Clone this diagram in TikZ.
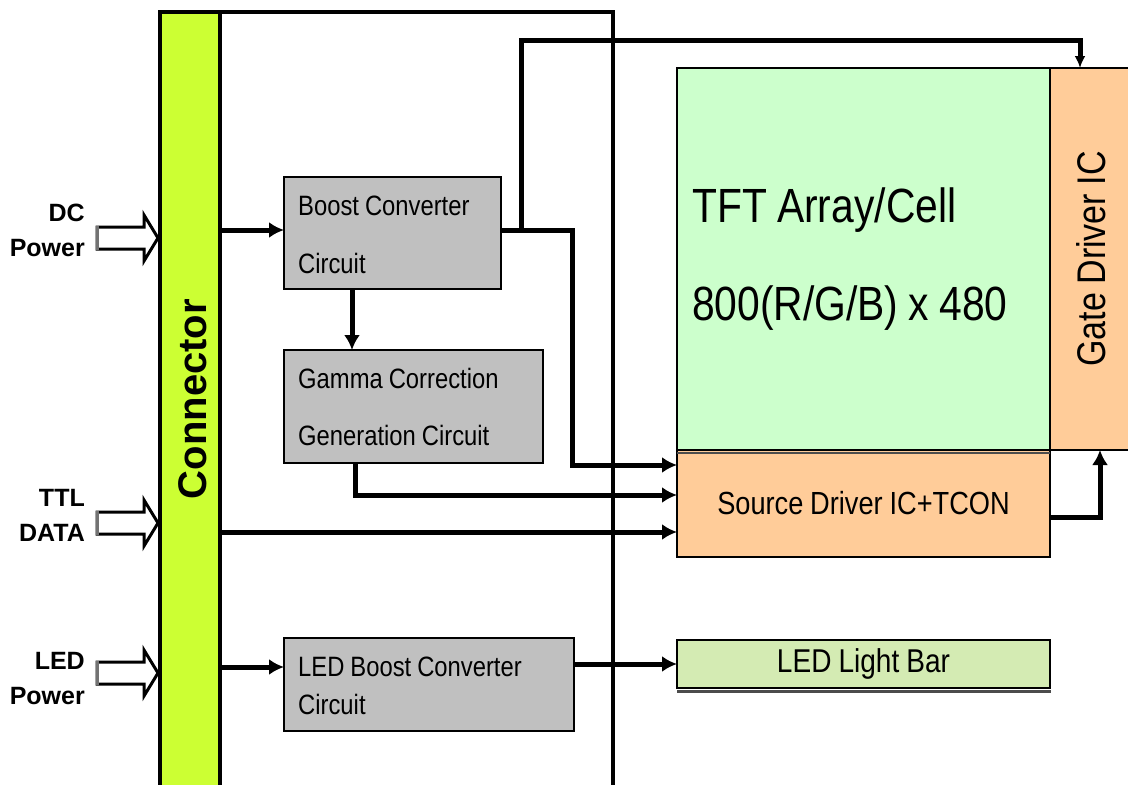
\documentclass[tikz,border=0pt]{standalone}
\usepackage{fontspec}
\setmainfont{Liberation Sans}
\newfontfamily\nf[FakeStretch=0.85,WordSpace=0.9]{Liberation Sans}
\usetikzlibrary{arrows.meta,calc}
\definecolor{barcol}{HTML}{CCFF33}
\definecolor{graybox}{HTML}{C0C0C0}
\definecolor{tftcol}{HTML}{CCFFCC}
\definecolor{orangecol}{HTML}{FFCC99}
\definecolor{ledcol}{HTML}{D4EBB3}
\begin{document}
\begin{tikzpicture}[x=1pt,y=-1pt,
  box/.style={draw=black, line width=2.5pt, inner sep=0pt, outer sep=0pt},
  graybx/.style={box, fill=graybox},
  intext/.style={align=left, anchor=west, inner sep=0pt},
  wire/.style={line width=5pt, line join=miter, line cap=butt},
  arr/.style={wire, -{Latex[length=15pt,width=16pt]}},
  hollow/.style={fill=white, draw=black, line width=3pt, line join=miter},
  lbl/.style={font=\bfseries\fontsize{25}{35}\selectfont, align=right, anchor=east, inner sep=0pt}
]
\useasboundingbox (0,0) rectangle (1128,785);
\clip (0,0) rectangle (1128,785);

% frame
\draw[line width=4pt] (160,12) -- (613,12) -- (613,800);
% connector bar
\node[box, fill=barcol, line width=4pt, minimum width=60pt, minimum height=788pt, anchor=north west] (conn) at (160,12) {};
\node[rotate=90, font=\bfseries\fontsize{40}{42}\selectfont] (conntxt) at (193,399) {Connector};

% left labels and hollow arrows
\node[lbl] (dc) at (85,230) {DC\\Power};
\node[lbl] (ttl) at (85,515) {TTL\\DATA};
\node[lbl] (ledp) at (85,679) {LED\\Power};
\foreach \c in {238,523,673}{
  \draw[hollow] (97,\c-11) -- (144,\c-11) -- (144,\c-23) -- (158,\c) -- (144,\c+23) -- (144,\c+11) -- (97,\c+11) -- cycle;
  \draw[black!55, line width=3pt] (97,\c-12) -- (97,\c+12);
}

% gray boxes
\node[graybx, minimum width=217pt, minimum height=112pt, anchor=north west] (boost) at (284,177) {};
\node[intext, font=\nf\fontsize{28}{58}\selectfont] (boosttxt) at ($(boost.west)+(14,2)$) {Boost Converter\\Circuit};
\node[graybx, minimum width=259pt, minimum height=113pt, anchor=north west] (gamma) at (284,350) {};
\node[intext, font=\nf\fontsize{28}{57}\selectfont] (gammatxt) at ($(gamma.west)+(14,0)$) {Gamma Correction\\Generation Circuit};
\node[graybx, minimum width=290pt, minimum height=93pt, anchor=north west] (ledb) at (284,638) {};
\node[intext, font=\nf\fontsize{28}{38}\selectfont] (ledbtxt) at ($(ledb.west)+(14,1)$) {LED Boost Converter\\Circuit};

% right blocks
\node[box, fill=orangecol, minimum width=100pt, minimum height=382pt, anchor=north west] (gate) at (1050,68) {};
\node[rotate=90, font=\nf\fontsize{40}{44}\selectfont] (gatetxt) at (1091,259) {Gate Driver IC};
\node[box, fill=tftcol, minimum width=373pt, minimum height=382pt, anchor=north west] (tft) at (677,68) {};
\node[intext, font=\nf\fontsize{48}{98}\selectfont] (tfttxt) at ($(tft.west)+(15,0)$) {TFT Array/Cell\\800(R/G/B) x 480};
\node[box, fill=orangecol, minimum width=373pt, minimum height=107pt, anchor=north west,
  font=\nf\fontsize{32}{36}\selectfont] (src) at (677,450) {Source Driver IC+TCON};
\node[box, fill=ledcol, minimum width=373pt, minimum height=48pt, anchor=north west,
  font=\nf\fontsize{33}{36}\selectfont] (bar) at (677,640) {LED Light Bar};
\draw[black!70, line width=3pt] (677,691) -- (1051,691);
\draw[black!70, line width=2pt] (677,453) -- (1050,453);

% connectors
\coordinate (tap) at (521,231);
\coordinate (gtop) at ($(gate.north west)+(30,0)$);
\coordinate (srcA) at ($(src.north west)+(0,15)$);
\coordinate (srcB) at ($(src.north west)+(0,45)$);
\coordinate (srcC) at ($(src.north west)+(0,82)$);
\coordinate (srcR) at ($(src.north east)+(0,67)$);
\coordinate (gbot) at ($(gate.south west)+(50,0)$);
\coordinate (boostIn) at ($(boost.north west)+(0,53)$);
\coordinate (ledIn) at ($(ledb.north west)+(0,29)$);

\draw[arr] (conn.east |- boostIn) -- (boostIn);
\draw[arr] (boostIn -| boost.east) -| (572,0 |- srcA) -- (srcA);
\draw[wire, -{Latex[length=12pt,width=11pt]}] (tap) -- (521,40) -| (gtop);
\draw[arr] ($(boost.south west)+(68,0)$) -- ($(gamma.north west)+(68,0)$);
\draw[arr] ($(gamma.south west)+(71,0)$) |- (srcB);
\draw[arr] (conn.east |- srcC) -- (srcC);
\draw[arr] (srcR) -| (gbot);
\draw[arr] (conn.east |- ledIn) -- (ledIn);
\draw[arr] (ledb.east |- bar.west) -- (bar.west);
\end{tikzpicture}
\end{document}
